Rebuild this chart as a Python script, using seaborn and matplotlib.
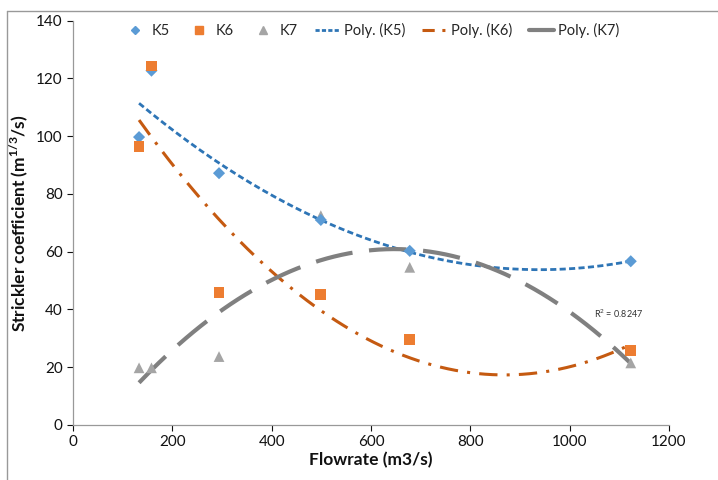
import numpy as np
import pandas as pd
import matplotlib
matplotlib.use("Agg")
import matplotlib.pyplot as plt
import seaborn as sns
from matplotlib.lines import Line2D

flow = [133, 158, 294, 499, 678, 1123]
k5 = [99.7, 122.7, 87.2, 71.0, 60.3, 56.7]
k6 = [96.5, 124.3, 45.9, 45.2, 29.5, 25.9]
k7 = [19.8, 19.8, 23.7, 72.5, 54.6, 21.5]

series_names = ["K5", "K6", "K7"]
x_ticks = [0, 200, 400, 600, 800, 1000, 1200]
y_ticks = [0, 20, 40, 60, 80, 100, 120, 140]

sns.set_theme(style="white")
plt.rcParams['font.family'] = ['Lato', 'DejaVu Sans']
plt.rcParams['mathtext.fontset'] = 'custom'
plt.rcParams['mathtext.rm'] = 'Lato'
plt.rcParams['mathtext.bf'] = 'Lato:bold'

fig = plt.figure(figsize=(7.18, 4.8), dpi=100)
ax = fig.add_axes([73/718, 55/480, (669-73)/718, (425-20.7)/480])

df = pd.DataFrame({"Flowrate": flow * 3,
                   "K": k5 + k6 + k7,
                   "Series": ["K5"] * 6 + ["K6"] * 6 + ["K7"] * 6})

mk_col = {"K5": "#5B9BD5", "K6": "#ED7D31", "K7": "#A5A5A5"}
markers = {"K5": "D", "K6": "s", "K7": "^"}
sizes = {"K5": 38, "K6": 60, "K7": 60}
line_col = {"K5": "#2E75B6", "K6": "#C55A11", "K7": "#808080"}
line_style = {"K5": (0, (2.2, 1.2)), "K6": (0, (6, 3, 1, 3)), "K7": (0, (9, 4))}
line_w = {"K5": 2.0, "K6": 2.2, "K7": 3.0}

# trendlines (polynomial order 2, Excel default)
xs = np.linspace(133, 1123, 200)
for name, vals in zip(series_names, [k5, k6, k7]):
    c = np.polyfit(flow, vals, 2)
    ax.plot(xs, np.polyval(c, xs), color=line_col[name], ls=line_style[name],
            lw=line_w[name], zorder=2)

for name in ["K7", "K5", "K6"]:
    sub = df[df.Series == name]
    sns.scatterplot(data=sub, x="Flowrate", y="K", marker=markers[name],
                    color=mk_col[name], s=sizes[name], edgecolor="none",
                    ax=ax, zorder=3, legend=False)

ax.text(1050, 37, "R$^2$ = 0.8247", fontsize=6.5, color="#333333")

ax.set_xlim(0, 1200)
ax.set_ylim(0, 140)
ax.set_xticks(x_ticks)
ax.set_yticks(y_ticks)
ax.tick_params(axis='both', labelsize=11, colors="#111111", length=4,
               width=0.8, direction='out', bottom=True, left=True)
for t in ax.get_xticklines() + ax.get_yticklines():
    t.set_color("#999999")
for s in ["top", "right"]:
    ax.spines[s].set_visible(False)
for s in ["left", "bottom"]:
    ax.spines[s].set_color("#999999")
    ax.spines[s].set_linewidth(0.9)

ax.set_xlabel("Flowrate (m3/s)", fontsize=12.5, fontweight="bold", labelpad=2,
              color="#111111")
ax.set_ylabel("Strickler coefficient (m$^{\\mathbf{1/3}}$/s)", fontsize=12.5,
              fontweight="bold", labelpad=4, color="#111111")

handles = [
    Line2D([], [], marker="D", color=mk_col["K5"], ls="none", ms=4),
    Line2D([], [], marker="s", color=mk_col["K6"], ls="none", ms=6),
    Line2D([], [], marker="^", color=mk_col["K7"], ls="none", ms=6),
    Line2D([], [], color=line_col["K5"], ls=(0, (1.5, 0.8)), lw=2),
    Line2D([], [], color=line_col["K6"], ls=(0, (4, 2.5, 1, 2.5)), lw=2.2),
    Line2D([], [], color=line_col["K7"], ls="-", lw=3),
]
labels = ["K5", "K6", "K7", "Poly. (K5)", "Poly. (K6)", "Poly. (K7)"]
ax.legend(handles, labels, loc="center", bbox_to_anchor=(0.50, 0.975),
          ncol=6, frameon=False, fontsize=10.5, handlelength=1.7,
          handletextpad=0.3, columnspacing=1.15)

# chart border
fig.add_artist(Line2D([7/718, 7/718], [0, 1 - 11/480], color="#999999", lw=1,
                      transform=fig.transFigure))
fig.add_artist(Line2D([7/718, 1], [1 - 11/480, 1 - 11/480], color="#999999", lw=1,
                      transform=fig.transFigure))

fig.savefig("out.png", dpi=100)
